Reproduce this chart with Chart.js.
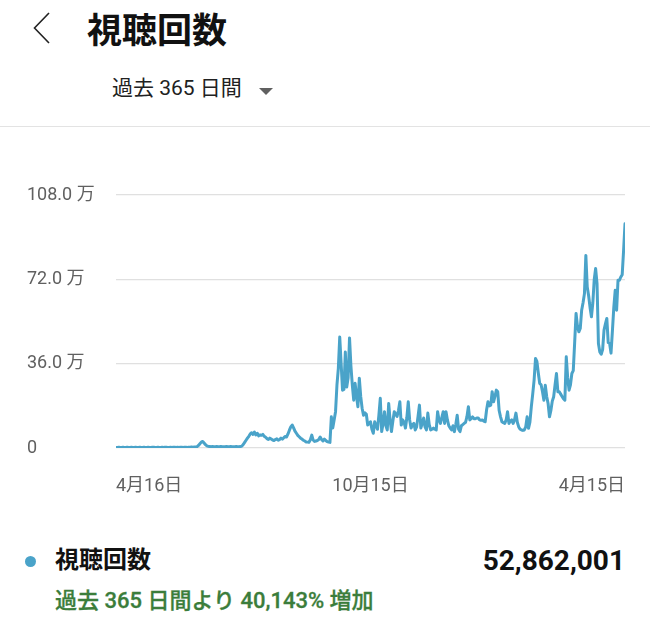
<!DOCTYPE html>
<html lang="ja">
<head>
<meta charset="UTF-8">
<title>視聴回数</title>
<script src="https://cdn.jsdelivr.net/npm/chart.js"></script>
<style>
  html, body { margin: 0; padding: 0; background: #fff; }
  body {
    width: 650px; height: 628px; position: relative; overflow: hidden;
    font-family: Roboto, "Noto Sans CJK JP", sans-serif; color: #111;
  }
  .abs { position: absolute; white-space: nowrap; }
  #back { left: 33px; top: 12px; }
  #title { left: 87px; top: 10px; font-size: 35px; line-height: 35px; font-weight: 700; font-family: "Noto Sans CJK JP", sans-serif; }
  #period { left: 112px; top: 78px; font-size: 21px; line-height: 21px; color: #212121; }
  #caret { left: 259px; top: 88px; width: 0; height: 0;
    border-left: 7px solid transparent; border-right: 7px solid transparent; border-top: 7px solid #606060; }
  #sep { left: 0; top: 126px; width: 650px; height: 1px; background: #e3e3e3; }
  .chart-box { position: absolute; left: 0; top: 150px; width: 650px; height: 350px; }
  #dot { left: 25px; top: 556px; width: 11px; height: 11px; border-radius: 50%; background: #4aa3c9; }
  #metric { left: 55px; top: 548px; font-size: 24px; line-height: 24px; font-weight: 700; }
  #total { right: 25px; top: 547px; font-size: 28px; line-height: 28px; font-weight: 700; }
  #change { left: 55px; top: 590px; font-size: 22px; line-height: 22px; font-weight: 500; color: #3b7d3b; -webkit-text-stroke: 0.3px #3b7d3b; }
</style>
</head>
<body>
  <svg id="back" class="abs" width="18" height="32" viewBox="0 0 18 32">
    <polyline points="16,1 1.5,16 16,31" fill="none" stroke="#222" stroke-width="1.6"/>
  </svg>
  <div id="title" class="abs">視聴回数</div>
  <div id="period" class="abs">過去 365 日間</div>
  <div id="caret" class="abs"></div>
  <div id="sep" class="abs"></div>

  <div class="chart-box">
    <canvas id="viewsChart"></canvas>
  </div>

  <div id="dot" class="abs"></div>
  <div id="metric" class="abs">視聴回数</div>
  <div id="total" class="abs">52,862,001</div>
  <div id="change" class="abs">過去 365 日間より 40,143% 増加</div>

<script>
// daily views over the last 365 days, in 万 (10,000)
const dailyViews = [
  0.2,0.2,0.3,0.2,0.2,0.3,0.2,0.2,0.3,0.2,
  0.2,0.3,0.2,0.2,0.3,0.2,0.2,0.3,0.2,0.2,
  0.3,0.2,0.2,0.3,0.2,0.2,0.3,0.3,0.2,0.2,
  0.3,0.2,0.2,0.3,0.2,0.3,0.3,0.2,0.2,0.3,
  0.2,0.3,0.3,0.2,0.3,0.2,0.3,0.3,0.2,0.3,
  0.3,0.2,0.3,0.3,0.4,0.3,0.4,0.4,0.6,1.1,
  1.8,2.5,2.8,2.1,1.4,0.9,0.7,0.6,0.5,0.6,
  0.5,0.5,0.6,0.5,0.5,0.6,0.5,0.5,0.5,0.6,
  0.5,0.5,0.6,0.5,0.5,0.5,0.6,0.5,0.5,0.6,
  0.8,1.5,2.4,3.3,4.2,5.0,6.0,6.5,5.8,6.8,
  5.6,6.3,5.2,5.6,5.4,5.8,5.0,4.6,4.0,3.6,
  4.2,3.8,3.4,3.2,3.6,3.9,3.3,3.6,4.2,3.8,
  4.4,4.9,4.7,6.0,7.6,9.0,9.8,8.6,7.2,6.3,
  5.4,4.8,4.2,3.8,3.3,3.0,2.6,2.5,2.4,3.5,
  5.5,3.4,2.8,3.0,3.2,3.6,4.7,3.6,3.0,3.8,
  3.2,2.7,2.5,2.4,13.3,8.5,12.0,15.5,26.8,34.0,
  47.4,36.0,24.7,25.0,41.0,26.0,30.0,47.0,35.0,26.8,
  20.4,27.6,22.0,17.6,29.8,22.0,17.0,14.0,15.0,14.5,
  9.8,10.5,11.2,8.0,6.3,11.2,9.5,8.0,14.0,21.2,
  7.0,10.5,15.5,9.5,7.7,19.0,12.0,7.0,11.5,15.5,
  14.5,13.5,16.0,19.7,9.8,12.0,11.0,8.5,13.0,19.7,
  12.0,8.5,10.0,10.5,7.7,9.0,13.5,18.3,8.5,10.5,
  12.8,9.0,7.7,14.9,10.0,7.7,8.0,8.5,8.0,7.7,
  15.5,12.0,10.5,13.0,15.5,10.5,15.5,12.0,9.5,8.5,
  7.7,9.5,7.0,10.0,14.0,8.0,7.0,9.5,10.0,10.5,
  11.0,13.5,17.6,12.0,12.5,13.3,12.5,12.5,12.8,12.8,
  12.0,11.8,12.0,11.5,11.2,16.2,19.7,18.0,18.3,24.0,
  19.7,22.0,24.7,24.0,16.0,13.3,11.2,10.8,10.5,12.0,
  15.5,10.5,11.5,12.0,10.5,12.0,14.9,11.0,9.0,8.0,
  7.7,7.5,7.7,9.0,13.3,8.4,11.0,17.6,23.0,29.0,
  38.2,37.0,32.0,27.6,27.0,24.0,20.4,26.8,22.0,19.0,
  13.3,16.0,20.0,21.9,27.0,31.8,24.0,24.0,23.0,22.0,
  21.0,20.4,38.9,30.0,24.7,27.0,31.8,33.0,45.0,57.4,
  52.0,49.6,51.0,58.8,62.0,65.9,82.2,68.7,65.0,60.0,
  56.0,62.0,72.0,76.6,70.2,44.6,41.0,40.0,42.0,50.3,
  53.0,55.3,45.0,44.6,40.5,50.0,60.0,67.3,58.8,71.6,
  71.6,73.0,74.0,84.4,95.7
];

// x tick positions (day index) and their labels
const tickDays = [0, 182, 364];
const tickLabels = ['4月16日', '10月15日', '4月15日'];

// y ticks in 万
const yTicks = [0, 36, 72, 108];

const lineColor = '#4aa3c9';
const axisFont = { family: 'Roboto, "Noto Sans CJK JP"', size: 18 };

new Chart(document.getElementById('viewsChart').getContext('2d'), {
  type: 'line',
  data: {
    datasets: [{
      label: '視聴回数',
      data: dailyViews.map((v, i) => ({ x: i, y: v })),
      borderColor: lineColor,
      borderWidth: 3,
      borderJoinStyle: 'round',
      borderCapStyle: 'round',
      pointRadius: 0,
      tension: 0,
      fill: false
    }]
  },
  options: {
    responsive: true,
    maintainAspectRatio: false,
    animation: false,
    layout: { padding: { left: 27, right: 25, top: 45, bottom: 0 } },
    plugins: { legend: { display: false }, tooltip: { enabled: false } },
    scales: {
      x: {
        type: 'linear',
        min: 0,
        max: dailyViews.length - 1,
        grid: { display: false },
        border: { display: false },
        afterBuildTicks: s => { s.ticks = tickDays.map(v => ({ value: v })); },
        afterFit: s => { s.height = 52; },
        ticks: {
          align: 'inner',
          autoSkip: false,
          maxRotation: 0,
          padding: 20,
          color: '#606060',
          font: axisFont,
          callback: (v, i) => tickLabels[i]
        }
      },
      y: {
        min: yTicks[0],
        max: yTicks[yTicks.length - 1],
        afterBuildTicks: s => { s.ticks = yTicks.map(v => ({ value: v })); },
        afterFit: s => { s.width = 89; },
        grid: { color: '#e0e0e0', lineWidth: 1.2, drawTicks: false },
        border: { display: false },
        ticks: {
          crossAlign: 'far',
          padding: 0,
          color: '#606060',
          font: axisFont,
          callback: v => v === 0 ? '0' : v.toFixed(1) + ' 万'
        }
      }
    }
  }
});
</script>
</body>
</html>
